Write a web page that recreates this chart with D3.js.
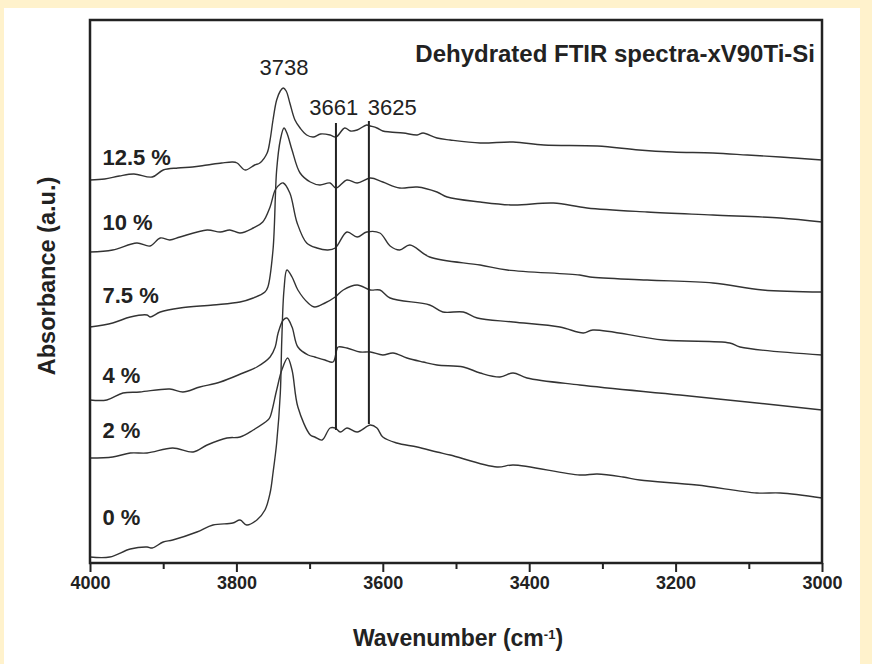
<!DOCTYPE html>
<html>
<head>
<meta charset="utf-8">
<script src="https://cdn.jsdelivr.net/npm/d3@7"></script>
<style>
  html, body { margin: 0; padding: 0; background: #fff2cc; }
  svg { display: block; }
</style>
</head>
<body>
<svg id="chart" width="872" height="664"></svg>
<script>
// spectra: [wavenumber (cm-1), absorbance (a.u., stacked offsets)]
const spec125 = [
  [4000, 3.80], [3980, 3.81], [3960, 3.84], [3940, 3.86], [3915, 3.83], [3900, 3.90],
  [3880, 3.92], [3860, 3.93], [3840, 3.95], [3820, 3.97], [3805, 3.98], [3799, 3.97],
  [3788, 3.90], [3775, 3.95], [3768, 3.97], [3758, 4.07], [3754, 4.20], [3750, 4.40],
  [3745, 4.60], [3740, 4.69], [3736, 4.72], [3732, 4.69], [3727, 4.57], [3720, 4.40],
  [3713, 4.32], [3704, 4.25], [3695, 4.23], [3685, 4.26], [3672, 4.25], [3664, 4.23],
  [3652, 4.32], [3644, 4.29], [3635, 4.30], [3622, 4.35], [3617, 4.34], [3608, 4.32],
  [3600, 4.29], [3590, 4.28], [3572, 4.27], [3553, 4.25], [3545, 4.27], [3526, 4.22],
  [3508, 4.20], [3467, 4.17], [3422, 4.18], [3380, 4.15], [3307, 4.14], [3250, 4.10],
  [3204, 4.08], [3149, 4.07], [3102, 4.05], [3057, 4.03], [3000, 4.00]
];
const spec10 = [
  [4000, 3.08], [3969, 3.10], [3936, 3.17], [3918, 3.14], [3904, 3.22], [3891, 3.20],
  [3877, 3.23], [3840, 3.30], [3822, 3.28], [3809, 3.30], [3795, 3.27], [3777, 3.32],
  [3764, 3.38], [3754, 3.53], [3747, 3.70], [3740, 3.76], [3736, 3.77], [3727, 3.67],
  [3717, 3.37], [3704, 3.17], [3690, 3.12], [3675, 3.10], [3665, 3.12], [3649, 3.28],
  [3635, 3.23], [3622, 3.28], [3604, 3.27], [3590, 3.14], [3577, 3.10], [3563, 3.15],
  [3536, 3.03], [3467, 2.95], [3430, 2.90], [3331, 2.85], [3317, 2.83], [3239, 2.80],
  [3149, 2.77], [3081, 2.70], [3000, 2.68]
];
const spec75 = [
  [4000, 2.33], [3969, 2.37], [3945, 2.43], [3922, 2.45], [3918, 2.43], [3904, 2.48],
  [3877, 2.52], [3832, 2.55], [3795, 2.58], [3777, 2.62], [3761, 2.68], [3757, 2.73],
  [3750, 3.10], [3745, 3.90], [3740, 4.20], [3735, 4.32], [3731, 4.27], [3724, 4.10],
  [3713, 3.87], [3699, 3.78], [3686, 3.75], [3672, 3.77], [3664, 3.72], [3649, 3.80],
  [3635, 3.77], [3617, 3.82], [3600, 3.78], [3577, 3.72], [3553, 3.73], [3526, 3.68],
  [3512, 3.63], [3467, 3.58], [3422, 3.55], [3367, 3.57], [3321, 3.52], [3239, 3.48],
  [3149, 3.45], [3057, 3.42], [3000, 3.38]
];
const spec4 = [
  [4000, 1.60], [3977, 1.60], [3955, 1.67], [3932, 1.68], [3891, 1.71], [3873, 1.68],
  [3850, 1.73], [3822, 1.78], [3791, 1.87], [3772, 1.93], [3754, 2.03], [3747, 2.13],
  [3743, 2.27], [3736, 2.40], [3731, 2.42], [3724, 2.33], [3716, 2.13], [3702, 2.05],
  [3693, 2.03], [3679, 2.00], [3668, 1.98], [3663, 2.10], [3661, 2.13], [3649, 2.12],
  [3631, 2.08], [3617, 2.08], [3600, 2.05], [3586, 2.07], [3567, 2.02], [3545, 1.98],
  [3526, 1.95], [3490, 1.93], [3467, 1.87], [3440, 1.83], [3422, 1.87], [3403, 1.82],
  [3331, 1.75], [3194, 1.65], [3102, 1.58], [3000, 1.50]
];
const spec2 = [
  [4000, 1.02], [3969, 1.03], [3945, 1.07], [3922, 1.07], [3887, 1.12], [3859, 1.08],
  [3840, 1.15], [3813, 1.22], [3795, 1.23], [3777, 1.30], [3757, 1.40], [3754, 1.43],
  [3745, 1.70], [3738, 1.90], [3730, 2.02], [3724, 1.90], [3716, 1.53], [3699, 1.25],
  [3693, 1.23], [3683, 1.20], [3672, 1.32], [3665, 1.32], [3658, 1.28], [3649, 1.32],
  [3635, 1.28], [3617, 1.35], [3608, 1.32], [3600, 1.23], [3581, 1.17], [3553, 1.13],
  [3526, 1.08], [3508, 1.05], [3444, 0.93], [3422, 0.95], [3331, 0.85], [3307, 0.86],
  [3272, 0.83], [3249, 0.80], [3171, 0.75], [3089, 0.67], [3057, 0.67], [3000, 0.62]
];
const spec0 = [
  [4000, 0.03], [3973, 0.03], [3945, 0.11], [3922, 0.13], [3915, 0.12], [3900, 0.18],
  [3887, 0.20], [3854, 0.28], [3832, 0.35], [3805, 0.37], [3795, 0.40], [3786, 0.35],
  [3772, 0.40], [3761, 0.50], [3754, 0.67], [3750, 0.87], [3745, 1.17], [3740, 1.67],
  [3738, 2.20], [3735, 2.70], [3731, 2.90], [3724, 2.83], [3716, 2.70], [3702, 2.57],
  [3693, 2.53], [3679, 2.57], [3665, 2.63], [3654, 2.70], [3635, 2.75], [3617, 2.70],
  [3604, 2.70], [3590, 2.62], [3536, 2.55], [3518, 2.48], [3490, 2.48], [3471, 2.42],
  [3422, 2.38], [3358, 2.33], [3326, 2.27], [3313, 2.30], [3217, 2.20], [3126, 2.17],
  [3112, 2.13], [3000, 2.05]
];

const seriesNames = ['12.5 %', '10 %', '7.5 %', '4 %', '2 %', '0 %'];
const seriesData = [spec125, spec10, spec75, spec4, spec2, spec0];
// label anchors (absorbance level of each label baseline)
const labelLevels = [3.95, 3.30, 2.57, 1.77, 1.22, 0.35];

// peak annotations
const peakLabels = [
  { text: '3738', wn: 3735, a: 4.85 },
  { text: '3661', wn: 3667, a: 4.45 },
  { text: '3625', wn: 3587, a: 4.45 }
];
const markerLines = [
  { wn: 3664, top: 4.37, bottom: 1.30 },
  { wn: 3619, top: 4.39, bottom: 1.36 }
];

const xTicks = [4000, 3800, 3600, 3400, 3200, 3000];
const xMinorTicks = [3900, 3700, 3500, 3300, 3100];

const chartTitle = 'Dehydrated FTIR spectra-xV90Ti-Si';

const FONT = '"Liberation Sans", Arial, sans-serif';
const svg = d3.select('#chart');

// white card on cream page
svg.append('rect')
  .attr('x', 4).attr('y', 8)
  .attr('width', 856).attr('height', 656)
  .attr('fill', '#ffffff');

const margin = { left: 90, right: 822, top: 20, bottom: 563 };

const x = d3.scaleLinear().domain([4000, 3000]).range([margin.left, margin.right]);
const y = d3.scaleLinear().domain([-0.03, 5.4]).range([margin.bottom, margin.top]);

// spectra
const line = d3.line()
  .x((d) => x(d[0]))
  .y((d) => y(d[1]))
  .curve(d3.curveCatmullRom.alpha(0.5));

svg.append('g')
  .selectAll('path')
  .data(seriesData)
  .enter()
  .append('path')
  .attr('d', line)
  .attr('fill', 'none')
  .attr('stroke', '#333')
  .attr('stroke-width', 1.4)
  .attr('stroke-linejoin', 'round');

// marker lines at the OH bands
svg.append('g')
  .selectAll('line')
  .data(markerLines)
  .enter()
  .append('line')
  .attr('x1', (d) => x(d.wn)).attr('x2', (d) => x(d.wn))
  .attr('y1', (d) => y(d.top)).attr('y2', (d) => y(d.bottom))
  .attr('stroke', '#222')
  .attr('stroke-width', 2);

// peak labels
svg.append('g')
  .selectAll('text')
  .data(peakLabels)
  .enter()
  .append('text')
  .attr('x', (d) => x(d.wn))
  .attr('y', (d) => y(d.a))
  .attr('text-anchor', 'middle')
  .attr('font-family', FONT)
  .attr('font-size', 22)
  .attr('fill', '#222')
  .text((d) => d.text);

// series labels
svg.append('g')
  .selectAll('text')
  .data(seriesNames)
  .enter()
  .append('text')
  .attr('x', x(3983))
  .attr('y', (d, i) => y(labelLevels[i]))
  .attr('font-family', FONT)
  .attr('font-size', 22)
  .attr('font-weight', 'bold')
  .attr('fill', '#222')
  .text((d) => d);

// title
svg.append('text')
  .attr('x', 815).attr('y', 62)
  .attr('text-anchor', 'end')
  .attr('font-family', FONT)
  .attr('font-size', 24)
  .attr('font-weight', 'bold')
  .attr('fill', '#222')
  .text(chartTitle);

// x axis: major + minor ticks
const xAxis = svg.append('g')
  .attr('transform', `translate(0,${margin.bottom})`)
  .call(d3.axisBottom(x).tickValues(xTicks).tickSize(9).tickSizeOuter(0).tickPadding(4).tickFormat(d3.format('d')));

xAxis.select('.domain').remove();
xAxis.selectAll('line').attr('stroke', '#222').attr('stroke-width', 2);
xAxis.selectAll('text')
  .attr('font-family', FONT)
  .attr('font-size', 18)
  .attr('font-weight', 'bold')
  .attr('fill', '#222');

svg.append('g')
  .attr('transform', `translate(0,${margin.bottom})`)
  .call(d3.axisBottom(x).tickValues(xMinorTicks).tickSize(6).tickSizeOuter(0).tickFormat(''))
  .call((g) => g.select('.domain').remove())
  .selectAll('line').attr('stroke', '#222').attr('stroke-width', 2);

// frame
svg.append('rect')
  .attr('x', margin.left).attr('y', margin.top)
  .attr('width', margin.right - margin.left)
  .attr('height', margin.bottom - margin.top)
  .attr('fill', 'none')
  .attr('stroke', '#222')
  .attr('stroke-width', 2.5);

// axis titles
const xTitle = svg.append('text')
  .attr('x', (margin.left + margin.right) / 2 + 2)
  .attr('y', 646)
  .attr('text-anchor', 'middle')
  .attr('font-family', FONT)
  .attr('font-size', 23)
  .attr('font-weight', 'bold')
  .attr('fill', '#222');
xTitle.append('tspan').text('Wavenumber (cm');
xTitle.append('tspan').attr('baseline-shift', 'super').attr('font-size', 13).text('-1');
xTitle.append('tspan').text(')');

svg.append('text')
  .attr('transform', 'translate(55,276) rotate(-90)')
  .attr('text-anchor', 'middle')
  .attr('font-family', FONT)
  .attr('font-size', 23.5)
  .attr('font-weight', 'bold')
  .attr('fill', '#222')
  .text('Absorbance (a.u.)');
</script>
</body>
</html>
